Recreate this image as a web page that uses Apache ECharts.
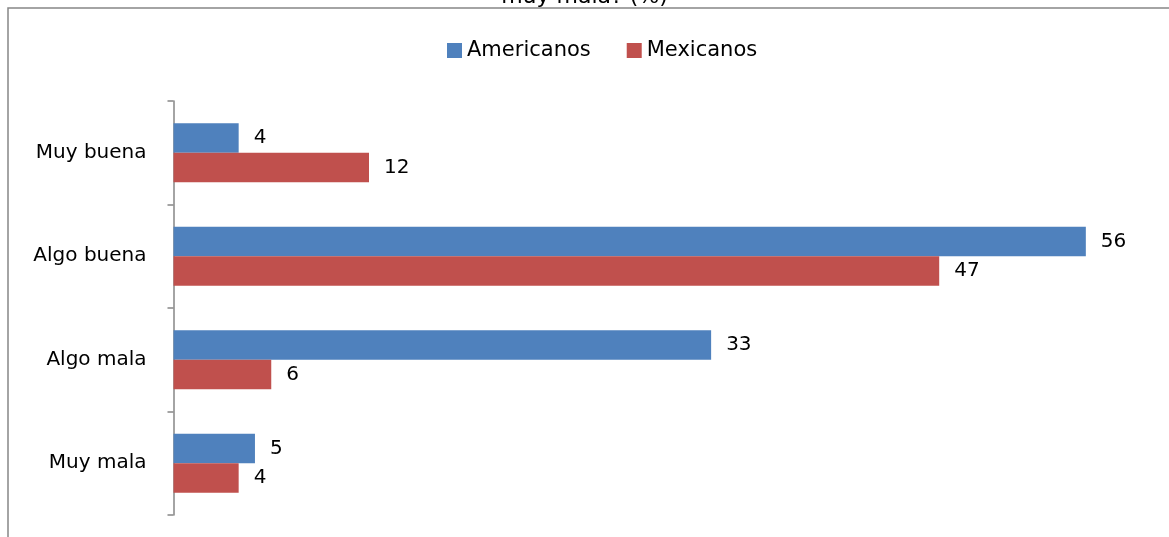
<!DOCTYPE html>
<html><head><meta charset="utf-8">
<script src="https://cdn.jsdelivr.net/npm/echarts@6/dist/echarts.min.js"></script>
<style>html,body{margin:0;padding:0;background:#fff}#c{width:1169px;height:537px}</style>
</head><body><div id="c"></div>
<script>
const categories = ["Muy buena", "Algo buena", "Algo mala", "Muy mala"];
const americanos = [4, 56, 33, 5];
const mexicanos = [12, 47, 6, 4];
const seriesNames = ["Americanos", "Mexicanos"];
const titleText = "muy mala? (%)";

const chart = echarts.init(document.getElementById('c'));
const font = "'DejaVu Sans', sans-serif";
const lbl = {show: true, position: 'right', distance: 15, color: '#000', fontSize: 20, fontFamily: font};
chart.setOption({
  animation: false,
  title: {text: titleText, left: 'center', top: -19, textStyle: {fontSize: 22, fontWeight: 'normal', color: '#000', fontFamily: font}},
  graphic: [{type: 'rect', shape: {x: 8, y: 8, width: 1200, height: 600}, style: {fill: 'none', stroke: '#868686', lineWidth: 1.5}, silent: true}],
  legend: {top: 35, left: 442, itemWidth: 15, itemHeight: 15, itemGap: 36, icon: 'rect',
    textStyle: {fontSize: 21, color: '#000', fontFamily: font}, data: seriesNames},
  grid: {left: 173.5, right: 18, top: 101, bottom: 22},
  xAxis: {type: 'value', min: 0, max: 60, show: false},
  yAxis: {type: 'category', data: categories, inverse: true,
    axisLine: {lineStyle: {color: '#868686', width: 1.5}},
    axisTick: {show: true, length: 6, lineStyle: {color: '#868686', width: 1.5}},
    axisLabel: {margin: 27, fontSize: 20, color: '#000', fontFamily: font}},
  series: [
    {name: seriesNames[0], type: 'bar', data: americanos, barGap: '0%', barCategoryGap: '43%', itemStyle: {color: '#4F81BD'}, label: lbl},
    {name: seriesNames[1], type: 'bar', data: mexicanos, itemStyle: {color: '#C0504D'}, label: lbl}
  ]
});
</script></body></html>
